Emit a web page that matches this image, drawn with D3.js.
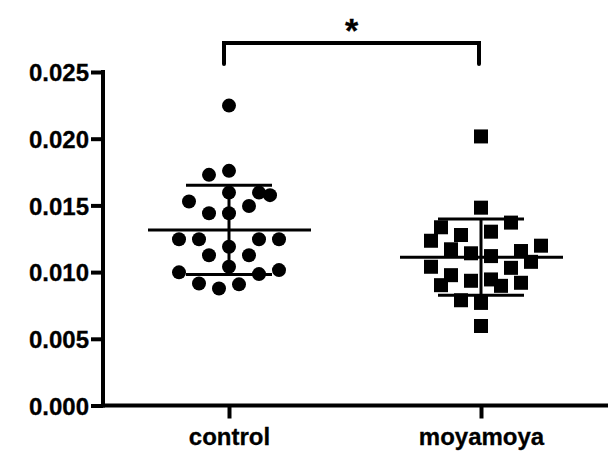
<!DOCTYPE html>
<html>
<head>
<meta charset="utf-8">
<script src="https://cdn.jsdelivr.net/npm/d3@7"></script>
<style>
  html, body { margin: 0; padding: 0; background: #fff; }
  svg { display: block; }
  text { font-family: "Liberation Sans", Arial, sans-serif; font-weight: bold; fill: #000; stroke: #000; stroke-width: 0.3px; }
</style>
</head>
<body>
<svg id="chart" width="608" height="451"></svg>
<script>
// ---- data ----
const categories = ["control", "moyamoya"];
const controlValues = [0.02248, 0.01759, 0.01729, 0.01596, 0.01596, 0.01577, 0.01529, 0.01496, 0.01441, 0.01441,
  0.01246, 0.01246, 0.01246, 0.01246, 0.01190, 0.01126, 0.01126, 0.01040, 0.01015, 0.00998,
  0.00985, 0.00915, 0.00908, 0.00877];
const controlSlots = [0, 0, -2, 0, 3, 4.1, -4, 2, -2, 0,
  -5, -3, 3, 5, 0, -2, 2, 0, 5, -5,
  3, -3, 1, -1];
const moyamoyaValues = [0.02017, 0.01483, 0.01371, 0.01336, 0.01303, 0.01278, 0.01235, 0.01198, 0.01171, 0.01158,
  0.01141, 0.01120, 0.01077, 0.01040, 0.01032, 0.00977, 0.00945, 0.00935, 0.00920, 0.00902,
  0.00897, 0.00789, 0.00769, 0.00596];
const moyamoyaSlots = [0, 0, 3, -4, 1, -2, -5, 6, -3, 4,
  -1, 1, 5, -5, 3, -3, 1, -1, 4, -4,
  2, -2, 0, 0];
const yTicks = [0, 0.005, 0.010, 0.015, 0.020, 0.025];
const significance = "*";

// ---- layout ----
const svg = d3.select("#chart");
const axisLeft = 103, axisBottom = 405.5;

const x = d3.scalePoint().domain(categories).range([axisLeft, 607]).padding(0.5);
const y = d3.scaleLinear().domain([0, 0.025]).range([axisBottom, 72]);
const slot = d3.scaleLinear().domain([0, 1]).range([0, 10]);

const groups = [
  { name: "control", values: controlValues, slots: controlSlots, shape: "circle" },
  { name: "moyamoya", values: moyamoyaValues, slots: moyamoyaSlots, shape: "square" }
];

// ---- axes ----
const yAxis = d3.axisLeft(y).tickValues(yTicks).tickFormat(d3.format(".3f")).tickSize(12).tickPadding(2);
const gy = svg.append("g").attr("transform", `translate(${axisLeft},0)`).call(yAxis);
gy.select(".domain").remove();
gy.selectAll(".tick line").attr("stroke", "#000").attr("stroke-width", 4);
gy.selectAll(".tick text").style("font-size", "24px").attr("dy", "0.36em");

const xAxis = d3.axisBottom(x).tickSize(13).tickPadding(9);
const gx = svg.append("g").attr("transform", `translate(0,${axisBottom})`).call(xAxis);
gx.select(".domain").remove();
gx.selectAll(".tick line").attr("stroke", "#000").attr("stroke-width", 4);
gx.selectAll(".tick text").style("font-size", "24px").attr("dy", "0.71em");

// axis lines
svg.append("line").attr("x1", axisLeft).attr("x2", axisLeft).attr("y1", y(0.025) - 2).attr("y2", axisBottom + 2)
  .attr("stroke", "#000").attr("stroke-width", 4);
svg.append("line").attr("x1", axisLeft - 2).attr("x2", 608).attr("y1", axisBottom).attr("y2", axisBottom)
  .attr("stroke", "#000").attr("stroke-width", 4);

// ---- points ----
groups.forEach(g => {
  const cx = x(g.name);
  const pts = g.values.map((v, i) => ({ v, s: g.slots[i] }));
  if (g.shape === "circle") {
    svg.append("g").selectAll("circle").data(pts).join("circle")
      .attr("cx", d => cx + slot(d.s)).attr("cy", d => y(d.v)).attr("r", 7).attr("fill", "#000");
  } else {
    svg.append("g").selectAll("rect").data(pts).join("rect")
      .attr("x", d => cx + slot(d.s) - 7).attr("y", d => y(d.v) - 7)
      .attr("width", 14).attr("height", 14).attr("fill", "#000");
  }
});

// ---- mean & SD ----
groups.forEach(g => {
  const cx = x(g.name);
  const m = d3.mean(g.values), sd = d3.deviation(g.values);
  const gg = svg.append("g").attr("stroke", "#000");
  gg.append("line").attr("x1", cx).attr("x2", cx).attr("y1", y(m + sd)).attr("y2", y(m - sd)).attr("stroke-width", 3);
  gg.append("line").attr("x1", cx - 43).attr("x2", cx + 43).attr("y1", y(m + sd)).attr("y2", y(m + sd)).attr("stroke-width", 3);
  gg.append("line").attr("x1", cx - 43).attr("x2", cx + 43).attr("y1", y(m - sd)).attr("y2", y(m - sd)).attr("stroke-width", 3);
  gg.append("line").attr("x1", cx - 81).attr("x2", cx + 82).attr("y1", y(m)).attr("y2", y(m)).attr("stroke-width", 3);
});

// ---- significance bracket ----
const bx1 = x("control") - 5, bx2 = x("moyamoya") - 2, bTop = 43, bBot = 64;
svg.append("path")
  .attr("d", `M${bx1},${bBot} L${bx1},${bTop} L${bx2},${bTop} L${bx2},${bBot}`)
  .attr("fill", "none").attr("stroke", "#000").attr("stroke-width", 4).attr("stroke-linecap", "round");
svg.append("text").attr("x", (bx1 + bx2) / 2).attr("y", 42).attr("text-anchor", "middle")
  .style("font-size", "34px").text(significance);
</script>
</body>
</html>
